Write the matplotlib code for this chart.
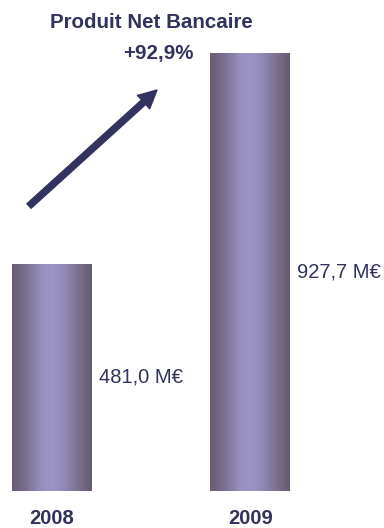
import numpy as np
import matplotlib
matplotlib.use("Agg")
import matplotlib.pyplot as plt
from matplotlib.colors import LinearSegmentedColormap

years = ["2008", "2009"]
values = [481.0, 927.7]
value_labels = ["481,0 M€", "927,7 M€"]
title = "Produit Net Bancaire"
growth_label = "+92,9%"

plt.rcParams['font.family'] = ['Liberation Sans', 'DejaVu Sans']
text_color = '#32325f'

fig = plt.figure(figsize=(3.84, 5.28), dpi=100)
ax = fig.add_axes([0, 37/528, 1, 491/528])
ax.set_xlim(-0.262, 1.673)
ax.set_ylim(0, 1040)
ax.axis('off')

x = np.arange(len(years))
width = 0.403
bars = ax.bar(x, values, width=width, color='none', edgecolor='none')

cmap = LinearSegmentedColormap.from_list(
    'cyl', [(0.0, '#675b71'), (0.15, '#776d8a'), (0.38, '#9890c0'),
            (0.5, '#9c94c6'), (0.65, '#928ab8'), (0.85, '#796e8a'), (1.0, '#665a70')])
grad = np.linspace(0, 1, 256).reshape(1, -1)
for b in bars:
    x0, y0 = b.get_x(), b.get_y()
    w, h = b.get_width(), b.get_height()
    im = ax.imshow(grad, cmap=cmap, aspect='auto', extent=(x0, x0 + w, y0, y0 + h),
                   interpolation='bilinear', zorder=2)
    im.set_clip_path(b)

ax.set_xlim(-0.262, 1.673)
ax.set_ylim(0, 1040)

for b, lab in zip(bars, value_labels):
    ax.annotate(lab, xy=(b.get_x() + b.get_width(), b.get_height() / 2),
                xytext=(7, 0), textcoords='offset pixels', ha='left', va='center',
                fontsize=14.5, color=text_color)

for xi, yr in zip(x, years):
    ax.annotate(yr, xy=(xi, 0), xytext=(0, -28), textcoords='offset pixels',
                ha='center', va='center', fontsize=14.5, fontweight='bold', color=text_color)

fig.text(151.5/384, 1 - 22/528, title, ha='center', va='center', fontsize=14.8,
         fontweight='bold', color=text_color)
fig.text(158/384, 1 - 53/528, growth_label, ha='center', va='center', fontsize=14.8,
         fontweight='bold', color=text_color)

ax.annotate('', xy=(157/384, 1 - 90/528), xycoords='figure fraction',
            xytext=(29/384, 1 - 206/528), textcoords='figure fraction',
            arrowprops=dict(arrowstyle='simple,head_length=1.0,head_width=1.0,tail_width=0.34',
                            mutation_scale=13, color='#33335f', shrinkA=0, shrinkB=0))

fig.savefig('out.png', dpi=100)
